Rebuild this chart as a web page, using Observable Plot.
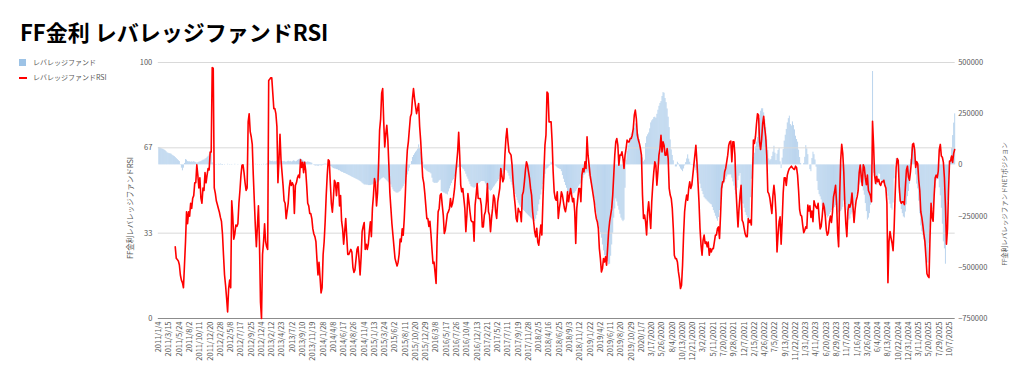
<!DOCTYPE html>
<html>
<head>
<meta charset="utf-8">
<script src="https://cdn.jsdelivr.net/npm/d3@7"></script>
<script src="https://cdn.jsdelivr.net/npm/@observablehq/plot@0.6"></script>
<style>
  body { margin: 0; background: #fff; font-family: "Noto Sans CJK JP", "Noto Sans", sans-serif; }
  #wrap { position: relative; width: 1024px; height: 380px; overflow: hidden; background: #fff; }
  #title { position: absolute; left: 20px; top: 20px; font-size: 22px; line-height: 22px; font-weight: bold; color: #000; white-space: nowrap; }
  .layer { position: absolute; left: 0; top: 50px; }
  .legend { position: absolute; left: 19px; font-size: 7px; line-height: 8px; color: #595959; white-space: nowrap; }
  .legend .sw { position: absolute; left: 0; top: 0; width: 7px; height: 7px; background: #9DC3E6; }
  .legend .ln { position: absolute; left: 0; top: 3px; width: 8px; height: 2px; background: #ff0000; }
  .legend .tx { position: absolute; left: 14px; top: -1px; }
  .axt { position: absolute; white-space: nowrap; color: #595959; transform: translate(-50%, -50%) rotate(-90deg); line-height: 1; }
</style>
</head>
<body>
<div id="wrap">
  <div id="title">FF金利 レバレッジファンドRSI</div>
  <div class="legend" style="top:59px;"><span class="sw"></span><span class="tx">レバレッジファンド</span></div>
  <div class="legend" style="top:74px;"><span class="ln"></span><span class="tx">レバレッジファンドRSI</span></div>
  <div id="chart"></div>
  <div class="axt" style="left:129.5px; top:208px; font-size:7.5px;">FF金利レバレッジファンドRSI</div>
  <div class="axt" style="left:1003.5px; top:204px; font-size:6.5px;">FF金利レバレッジファンドNETポジション</div>
</div>
<script>
// ---- data (weekly, starting 2011/1/4) ----
const seriesBarName = "レバレッジファンド";
const seriesLineName = "レバレッジファンドRSI";

// x-axis category labels (every 10th week)
const xLabels = ["2011/1/4","2011/3/15","2011/5/24","2011/8/2","2011/10/11","2011/12/20","2012/2/28","2012/5/8","2012/7/17","2012/9/25","2012/12/4","2013/2/12","2013/4/23","2013/7/2","2013/9/10","2013/11/19","2014/1/28","2014/4/8","2014/6/17","2014/8/26","2014/11/4","2015/1/13","2015/3/24","2015/6/2","2015/8/11","2015/10/20","2015/12/29","2016/3/8","2016/5/17","2016/7/26","2016/10/4","2016/12/13","2017/2/21","2017/5/2","2017/7/11","2017/9/19","2017/11/28","2018/2/5","2018/4/16","2018/6/25","2018/9/3","2018/11/12","2019/1/22","2019/4/2","2019/6/11","2019/8/20","2019/10/29","2020/1/7","3/17/2020","5/26/2020","8/4/2020","10/13/2020","12/21/2020","3/2/2021","5/11/2021","7/20/2021","9/28/2021","12/7/2021","2/15/2022","4/26/2022","7/5/2022","9/13/2022","11/22/2022","1/31/2023","4/11/2023","6/20/2023","8/29/2023","11/7/2023","1/16/2024","3/26/2024","6/4/2024","8/13/2024","10/22/2024","12/31/2024","3/11/2025","5/20/2025","7/29/2025","10/7/2025"];
const labelStep = 10;

// left axis ticks (RSI) and right axis ticks (net position)
const leftTicks = [0, 100/3, 200/3, 100];
const rightTicks = [-750000, -500000, -250000, 0, 250000, 500000];

// RSI, weekly (first 16 weeks have no value)
const rsi = [null,null,null,null,null,null,null,null,null,null,null,null,null,null,null,null,
28,23.5,23,22.5,21,17,15,14,12,21,
30,41.7,37,41.7,40,45,43,47,48,53,
53,60,56,51,55,47,45,51,50,57,
53,56,58.6,58,65,65,98,97.8,51,49,
46,44.5,43,41.5,39.5,38,33,24.7,17,13,
8,2.6,11.7,15,12,46,40,31,33,36.5,
36,37,45,50,56,59.9,60,57,53,50,
51,76.8,80,73,71,68,56,46,36,28,
36,44,30,6.5,0,25,30,37,30,28,
27,93,93.5,94,94,88,82,82,80,75,
53,62,72,62,57,52,46,45,39,42,
45,51,54,52,53,52,41,52,53,55,
56,55,62,59,61,57,61,58,52,45,
44,41,41,39,35,33,32,30,23,17,
22,16,10,12,25,30,38,48,56,62,
61.5,53,45,41.5,47,54,53,48,53,53,
44,48,38,35,29,34,39,32,25,25,
26,27,26,20,18,19,23,27,28,23,
17,24,34,36,37.5,27,29,27,29,34,
37.8,32,43,48,54.7,52.7,44,49,60,73.6,
78,88,89.8,77,67,72,75.5,70,60,49,
43,37,32.5,28,23.5,22,20.5,22,25,31,
30,35,32.5,39,48,58.6,65.8,69,74,78.8,
80,86,89.8,86,83,80,82,84,75,69.5,
62,55,53,49,44,39,39,36,38,33,
27,21.5,22,18,13.7,31,41.7,43,48.2,
48.8,44.3,40.4,33.2,34.5,37.8,41,41.7,43,46.9,
43.6,44.9,47.5,50.8,56,60.5,65.1,72.7,63.8,52.1,
49.5,50.8,46.9,43,33.9,40.4,48.8,45.6,41.7,38.4,
37.8,37.8,30.2,44.3,48.2,52.7,46.9,46.9,46.9,44.3,
35.8,35.8,40.4,41.7,45.6,52.7,41.7,40.4,33.9,39.1,
43,48.2,46.9,41.7,39.1,45.6,48.2,50.8,58.6,56,
53.4,54.7,63.8,70.3,74.2,69,65.1,64.5,63.8,59.9,
53.4,48.2,44.3,39.1,37.8,43,41.7,41.7,37.8,48.2,
49.5,53.4,57.9,61.2,59.9,57.3,54.7,50.8,48.2,41.7,
37.8,33.9,31.9,35.2,29.9,28.6,32.6,36.5,32.6,45.6,
57.3,67.7,71.6,88.5,87.9,76.8,76.8,76.8,69,57.3,
49.5,46.9,46.2,49.5,39.1,43,45.6,49.5,48.2,45.6,
43,41.7,44.3,49.5,45.6,48.2,50.8,48.2,45.6,46.9,
41.7,29.3,43,46.9,50.8,50.8,45.6,56,58.6,57.3,
61.2,58.6,71,63.8,59.9,56,53.4,50.8,48.2,45.6,
41.7,39.1,37.8,35.2,27.3,23.4,18.2,19.5,23.4,22.1,
24.1,20.8,27.3,33.9,37.8,40.4,43,48.2,56,63.8,
69,70.3,67.7,59.9,63.8,63.8,65.1,62.5,58.6,63.8,
66.4,69.7,69,69,70.3,70.3,71.6,74.2,79.4,81.4,
78.1,71.6,69.7,68.4,66.4,63.8,48.2,39.1,40.4,37.8,
32.6,41.7,45.6,40.4,35.2,45.6,52.1,57.3,61.2,59.9,
52.1,57.3,63.8,66.4,71.6,65.1,69,67.7,63.8,63.8,
66.4,62.5,50.8,48.2,46.9,43,35.2,24.7,23.4,23.4,
22.1,18.2,15.6,11.7,13,20.8,32.6,41.7,45.6,48.2,
46.2,50.8,53.4,50.8,52.1,56,59.9,63.8,67.7,61.2,
53.4,45.6,35.2,28.6,24.7,30.6,32.6,29.3,29.9,28,
29.9,24.7,27.3,26,27.3,27.3,29.9,32.6,32.6,35.2,
35.8,31.3,40.4,50.8,53.4,53.4,57.3,58.6,61.2,63.8,
67.7,69,69.3,61.2,69,69,63.8,50.8,43,35.8,
43,48.2,
52,38.4,37.5,35.2,33,32,32,39,37.5,38.4,
36.5,53.4,69.7,68.4,71,76,80,79.4,69,66,
70,76,79,74.5,71,63.8,49.5,48.8,47,44,
41,48,52,48,41,26,32.6,37.8,39.7,29,
38,49,55,55,52,56,57.5,58.6,59,59.5,
58.9,58.5,58.2,59.5,59,56,50,42.5,40.4,40,
36.5,33.5,34.5,35.8,35.2,44.3,42,44,39.5,42,
37.8,46,44.3,43.5,43,45,39.5,35,36,40,
45,43.5,40,34.5,32.5,33.5,37.8,40,37.5,41.5,
47.5,49.5,52,45,33.5,28,48,62,68,64.5,
57.3,45,37,32,42,44.5,43.5,45,49,43.5,
37.5,42.5,46,47.5,50,57,59.9,55.5,52,60,
59,55,52.3,56,50,49,48,45.6,77,68,
56,52.8,55.5,53.4,54.4,52.5,52,53.4,53.4,54,
52,51,45,14,30,34,31.5,29.5,26.5,35,
48,59,62.5,61.8,51.5,46,45,45.6,45.6,44.5,
51.5,58,59.5,55.3,54,57.5,62,68,68.4,66,
59,61.3,60.5,54,50,41.7,39.5,36.5,33,30,
24,17.5,16.5,16,32,45,39.5,38,48,55,
56,55,57.5,66,68,63.5,63,61,55,44,
29,35,50,61.5,61.5,63.5,61,64.5,66];

// Leveraged fund net position, weekly, in thousands of contracts
const netK = [
85,83,81,78,76,73,70,65,59,57,
55,54,52,47,44,41,36,31,26,21,
16,-2,-16,-29,-16,7,26,23,16,15,
15,13,15,13,16,13,11,8,10,13,
15,16,20,23,24,28,31,37,42,49,
54,57,10,2,3,-2,2,0,3,-2,
4,2,-3,0,2,0,0,3,0,-2,
0,2,0,0,3,0,0,2,0,0,
3,0,0,-2,0,2,0,0,3,0,
0,2,0,0,3,0,2,0,-2,0,
2,0,3,0,2,4,5,20,20,17,
16,18,14,17,15,20,16,13,15,18,
16,15,17,14,13,16,18,15,17,14,
16,20,18,15,17,22,25,28,30,26,
22,18,16,14,12,15,13,12,10,8,
0,-3,-5,-6,-4,-8,-5,-3,-6,-4,
-3,3,4,3,2,3,-5,-8,-10,-15,
-18,-20,-21,-23,-24,-28,-29,-33,-36,-37,
-41,-42,-44,-47,-49,-52,-54,-57,-60,-62,
-65,-67,-70,-72,-75,-78,-81,-85,-90,-94,
-98,-98,-99,-99,-101,-101,-101,-99,-98,-94,
-93,-91,-90,-88,-85,-78,-73,-68,-65,-63,
-68,-73,-78,-83,-88,-93,-98,-111,-122,-130,
-133,-137,-138,-137,-133,-130,-122,-114,-106,-94,
-81,-62,-49,-33,-16,-2,16,36,46,54,
62,68,77,98,81,62,33,13,-16,-21,
-26,-31,-34,-37,-39,-44,-65,-85,-90,-90,
-90,-90,-85,-78,-75,
-130,-133,-137,-138,-142,-143,-147,-132,-117,-103,
-91,-78,-72,-59,-44,-28,-16,-13,-10,-8,
-13,-20,-24,-33,-46,-59,-70,-83,-96,-106,
-109,-112,-114,-111,-104,-99,-94,-90,-85,-81,
-81,-81,-83,-93,-103,-114,-119,-124,-129,-125,
-117,-109,-103,-94,-88,-81,-72,-59,-49,-44,
-37,-29,-26,-28,-31,-41,-55,-70,-85,-99,
-114,-130,-145,-160,-174,-187,-197,-207,-213,-218,
-223,-228,-234,-239,-244,-249,-254,-259,-264,-269,
-273,-277,-265,-247,-228,-195,-171,-147,-122,-96,
-68,-46,-24,-18,-15,-8,2,13,7,3,
0,-5,-10,-15,-18,-21,-23,-33,-52,-70,
-86,-101,-114,-130,-135,-140,-145,-147,-143,-140,
-137,-130,-122,-114,-104,-96,-90,-77,-65,-52,
-46,-41,-34,-41,-57,-72,-90,-114,-138,-164,
-200,-234,-270,-293,-313,-332,-358,-391,-420,-443,
-456,-466,-472,-488,-485,-446,-391,-334,-260,-215,
-166,-181,-202,-221,-241,-260,-270,-277,-270,-114,
23,65,93,112,133,150,160,169,179,200,
202,169,150,124,83,54,34,15,23,104,
137,147,156,176,205,215,221,231,233,228,
247,267,286,300,309,334,353,350,324,304,
273,233,182,122,73,46,20,0,-10,-10,
13,5,-10,-20,-26,-33,-20,-5,11,29,
49,28,13,2,-2,-5,-8,-15,-28,-41,
-55,-75,-94,-116,-130,-145,-160,-166,-171,-177,
-182,-187,-192,-195,-208,-223,-236,-251,-264,-275,
-257,-223,-192,-156,-117,-94,-78,-72,-59,-49,
-49,-49,-49,-65,-83,-104,-125,-145,-114,-77,
-55,-42,
-221,-189,-192,-212,-233,-247,-259,-269,-260,-160,
-70,11,36,57,88,111,133,182,226,262,
274,274,254,221,182,122,70,29,20,26,
41,62,91,57,21,52,70,81,15,-18,
33,75,116,145,173,205,226,238,197,190,
210,192,171,140,124,111,72,36,7,0,
0,7,37,94,78,50,0,-23,-33,31,
62,50,24,-11,-81,-125,-145,-156,-171,-202,
-218,-228,-238,-249,-259,-252,-243,-233,-223,-212,
-212,-208,-199,-215,-244,-234,-228,-228,-220,-207,
-176,-174,-194,-223,-251,-270,-264,-244,-234,-223,
-199,-171,-143,-124,-109,-98,-88,-88,-107,-127,
-148,-189,-228,-269,-260,-238,-197,-163,456,-41,
-68,-98,-101,-65,-44,-46,-75,-81,-83,-93,
-103,-114,-132,-153,-173,-192,-212,-221,-186,-68,
0,31,21,-39,-140,-184,-218,-238,-254,-259,
-230,-195,-155,-130,-94,26,86,98,88,52,
-49,-94,-117,-177,-238,-298,-327,-345,-365,-396,
-436,-477,-480,-383,-306,-243,-218,-189,-155,-114,
-78,-59,-72,-112,-151,-212,-290,-376,-410,-485,
-301,-174,-73,5,36,81,143,204,249];

// ---- build tables ----
const nWeeks = netK.length;
const barData = netK.map((v, i) => ({ week: i, net: v * 1000 }));
const rsiData = rsi.map((v, i) => ({ week: i, rsi: v })).filter(d => d.rsi !== null);
const tickWeeks = xLabels.map((_, k) => k * labelStep);

const FONT = '"Noto Sans CJK JP", "Noto Sans", sans-serif';
const common = {
  width: 1024, height: 330,
  marginLeft: 157.8, marginRight: 69.3, marginTop: 12, marginBottom: 62,
  style: { fontFamily: FONT, fontSize: "7.5px", color: "#595959", background: "transparent", overflow: "visible" },
  x: { domain: [-0.5, nWeeks - 0.5], axis: null }
};

// Layer 1: bars on the right (net position) scale
const barPlot = Plot.plot({
  ...common,
  y: { domain: [-750000, 500000], axis: null },
  marks: [
    Plot.ruleX(barData, { x: "week", y1: 0, y2: "net", stroke: "#8DB8E3", strokeWidth: 0.6 }),
    Plot.axisY(rightTicks, { anchor: "right", label: null, tickSize: 0, tickPadding: 3, tickFormat: d3.format("d"), fill: "#595959" })
  ]
});

// Layer 2: grid, left axis, x axis and the RSI line on the left scale
const linePlot = Plot.plot({
  ...common,
  y: { domain: [0, 100], axis: null },
  marks: [
    Plot.gridY(leftTicks.slice(1), { stroke: "#d9d9d9", strokeOpacity: 1 }),
    Plot.ruleY([0], { stroke: "#8c8c8c", strokeWidth: 1 }),
    Plot.axisY(leftTicks, { anchor: "left", label: null, tickSize: 0, tickPadding: 6, tickFormat: d3.format(".0f"), fill: "#595959" }),
    Plot.axisX(tickWeeks, { anchor: "bottom", label: null, tickSize: 0, tickPadding: 3, tickRotate: -90, tickFormat: w => xLabels[w / labelStep], fill: "#595959" }),
    Plot.lineY(rsiData, { x: "week", y: "rsi", stroke: "#ff0000", strokeWidth: 1.6, strokeLinejoin: "round" })
  ]
});

const chart = document.getElementById("chart");
barPlot.classList.add("layer");
linePlot.classList.add("layer");
chart.appendChild(barPlot);
chart.appendChild(linePlot);
</script>
</body>
</html>
